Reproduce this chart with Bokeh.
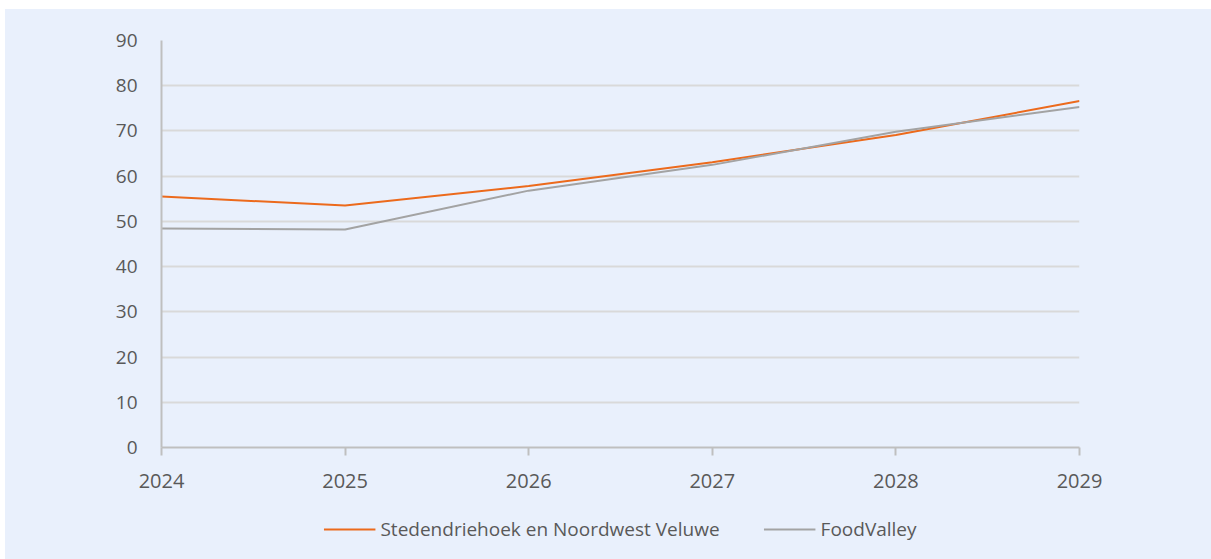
from bokeh.plotting import figure
from bokeh.models import Legend, LegendItem, FixedTicker, Range1d
from bokeh.layouts import column
from bokeh.embed import file_html
from bokeh.resources import INLINE

years = [2024, 2025, 2026, 2027, 2028, 2029]
stedendriehoek = [55.5, 53.5, 57.8, 63.1, 69.1, 76.6]
foodvalley = [48.4, 48.2, 56.8, 62.5, 69.8, 75.3]
series_names = ["Stedendriehoek en Noordwest Veluwe", "FoodValley"]
series_colors = ["#EC6A1C", "#A3A3A3"]
y_ticks = [0, 10, 20, 30, 40, 50, 60, 70, 80, 90]

BG = "#E9F0FC"
TXT = "#595959"
FONT = "Open Sans"

p = figure(width=1206, height=489, output_backend="svg", toolbar_location=None,
           x_range=Range1d(2024, 2029), y_range=Range1d(0, 90),
           background_fill_alpha=0, border_fill_color=BG,
           min_border_left=156, min_border_right=132, min_border_top=31, min_border_bottom=51)
p.outline_line_color = None

p.line(years, stedendriehoek, line_color=series_colors[0], line_width=2)
p.line(years, foodvalley, line_color=series_colors[1], line_width=2)

p.xaxis.ticker = FixedTicker(ticks=years)
p.yaxis.ticker = FixedTicker(ticks=y_ticks)
p.xgrid.grid_line_color = None
p.ygrid.grid_line_color = "#D9D9D9"
p.ygrid.grid_line_width = 2

for ax in (p.xaxis, p.yaxis):
    ax.axis_line_color = "#BFBFBF"
    ax.axis_line_width = 2
    ax.major_label_text_font = FONT
    ax.major_label_text_color = TXT
    ax.minor_tick_line_color = None
p.xaxis.major_tick_line_color = "#BFBFBF"
p.xaxis.major_tick_line_width = 2
p.xaxis.major_tick_in = 0
p.xaxis.major_tick_out = 8
p.xaxis.major_label_standoff = 18
p.xaxis.major_label_text_font_size = "20px"
p.yaxis.major_tick_line_color = None
p.yaxis.major_label_standoff = 18
p.yaxis.major_label_text_font_size = "19px"

# legend strip (its series lines lie outside its own view; only the legend shows)
lg = figure(width=1206, height=61, output_backend="svg", toolbar_location=None,
            x_range=Range1d(0, 1), y_range=Range1d(0, 1),
            background_fill_alpha=0, border_fill_color=BG,
            min_border_left=0, min_border_right=0, min_border_top=0, min_border_bottom=0)
lg.outline_line_color = None
lg.axis.visible = False
lg.grid.grid_line_color = None
l1 = lg.line(years, stedendriehoek, line_color=series_colors[0], line_width=2)
l2 = lg.line(years, foodvalley, line_color=series_colors[1], line_width=2)
legend = Legend(items=[LegendItem(label=series_names[0], renderers=[l1]),
                       LegendItem(label=series_names[1], renderers=[l2])],
                orientation="horizontal", location="center",
                background_fill_alpha=0, border_line_color=None,
                label_text_font=FONT, label_text_color=TXT, label_text_font_size="19px",
                glyph_width=52, spacing=44, label_standoff=5, margin=0, padding=6)
lg.add_layout(legend, "center")

layout = column(p, lg, spacing=0, styles={"background-color": BG})
layout.margin = (9, 0, 0, 5)

open("out.html", "w").write(file_html(layout, INLINE))
